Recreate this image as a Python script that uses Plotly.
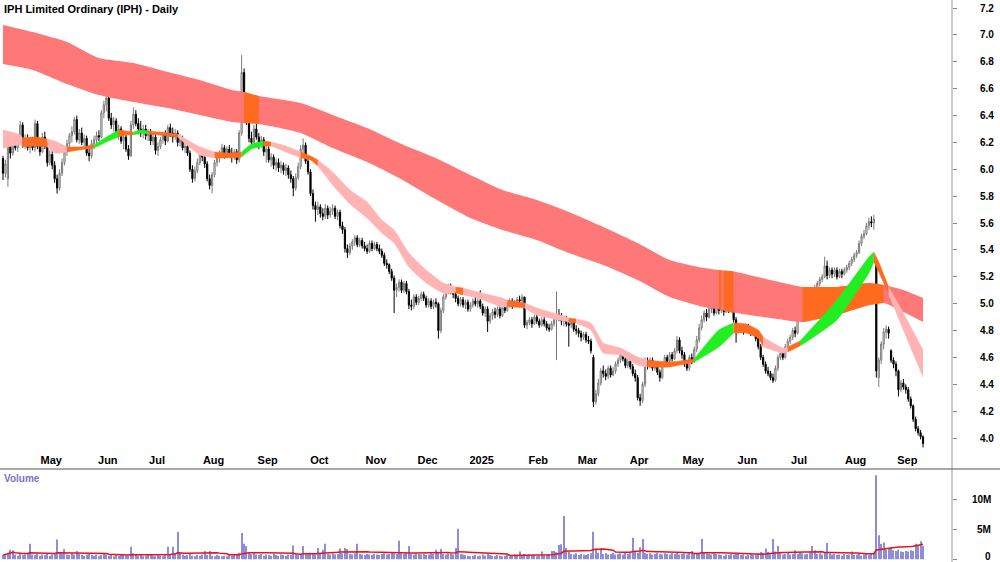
import pandas as pd
import plotly.graph_objects as go

# ---------------- data ----------------
START_DATE = "2024-04-11"
N_DAYS = 375

OPEN = [6.08,5.97,5.93,6.18,6.12,6.20,6.16,6.21,6.33,6.18,
6.22,6.16,6.21,6.16,6.34,6.17,6.13,6.24,6.17,6.05,
6.11,6.03,5.93,5.86,5.97,6.05,6.13,6.19,6.25,6.28,
6.37,6.22,6.27,6.20,6.23,6.12,6.10,6.19,6.22,6.25,
6.24,6.42,6.48,6.53,6.38,6.33,6.36,6.28,6.30,6.21,
6.24,6.15,6.10,6.33,6.41,6.34,6.30,6.27,6.30,6.25,
6.26,6.21,6.24,6.14,6.17,6.22,6.26,6.21,6.31,6.27,
6.24,6.27,6.20,6.23,6.16,6.17,6.12,6.00,5.93,5.99,
6.05,6.12,6.09,6.04,5.93,5.88,5.96,6.05,6.09,6.12,
6.16,6.11,6.15,6.12,6.10,6.13,6.07,6.27,6.72,6.45,
6.36,6.23,6.20,6.30,6.24,6.18,6.22,6.13,6.15,6.07,
6.09,6.03,6.05,6.01,6.03,5.99,6.01,5.96,5.93,5.86,
5.94,6.02,6.15,6.18,6.06,5.98,5.82,5.73,5.70,5.72,
5.67,5.65,5.71,5.66,5.69,5.71,5.65,5.68,5.58,5.55,
5.41,5.38,5.43,5.46,5.49,5.44,5.47,5.43,5.41,5.39,
5.45,5.41,5.44,5.41,5.39,5.36,5.30,5.29,5.24,5.19,
5.10,5.12,5.16,5.10,5.15,5.09,4.99,4.98,5.05,5.01,
5.04,5.07,5.04,4.99,5.02,4.98,5.01,5.00,4.80,4.95,
5.05,5.09,5.13,5.10,5.07,5.04,5.00,5.03,4.99,5.01,
4.96,4.99,5.02,5.00,5.02,4.98,4.93,4.96,4.87,4.91,
4.94,4.92,4.96,4.91,4.97,4.95,4.99,5.02,4.98,5.01,
5.03,5.02,5.05,4.84,4.86,4.88,4.85,4.90,4.87,4.84,
4.88,4.85,4.82,4.81,4.85,4.88,4.92,4.90,4.87,4.89,
4.85,4.84,4.86,4.81,4.80,4.78,4.75,4.77,4.73,4.72,
4.60,4.27,4.33,4.41,4.50,4.48,4.46,4.52,4.47,4.50,
4.55,4.58,4.62,4.59,4.54,4.57,4.53,4.48,4.45,4.30,
4.28,4.40,4.57,4.54,4.58,4.52,4.55,4.49,4.45,4.55,
4.60,4.57,4.62,4.59,4.65,4.73,4.65,4.62,4.55,4.52,
4.60,4.58,4.66,4.73,4.82,4.88,4.93,4.90,4.96,4.98,
4.93,4.98,4.95,4.97,4.94,4.99,4.95,4.98,4.88,4.80,
4.83,4.82,4.80,4.83,4.80,4.78,4.80,4.74,4.68,4.60,
4.55,4.50,4.48,4.45,4.43,4.52,4.60,4.63,4.60,4.68,
4.72,4.75,4.80,4.78,4.90,5.05,5.08,5.05,5.10,5.07,
5.05,5.12,5.15,5.18,5.20,5.28,5.21,5.25,5.22,5.25,
5.20,5.24,5.22,5.25,5.27,5.30,5.33,5.36,5.38,5.45,
5.50,5.52,5.58,5.61,5.60,5.31,4.45,4.58,4.70,4.79,
4.81,4.65,4.58,4.55,4.50,4.36,4.41,4.38,4.36,4.29,
4.24,4.14,4.07,4.04,4.01]

HIGH = [6.10,6.07,6.24,6.22,6.22,6.25,6.23,6.36,6.35,6.26,
6.26,6.24,6.24,6.37,6.36,6.22,6.27,6.28,6.20,6.14,
6.14,6.06,5.96,6.00,6.08,6.17,6.22,6.27,6.32,6.39,
6.40,6.30,6.31,6.26,6.25,6.17,6.22,6.25,6.28,6.29,
6.44,6.51,6.57,6.55,6.42,6.39,6.38,6.33,6.32,6.26,
6.27,6.18,6.36,6.46,6.44,6.38,6.36,6.33,6.33,6.30,
6.30,6.27,6.26,6.20,6.24,6.28,6.29,6.33,6.34,6.31,
6.30,6.29,6.26,6.25,6.20,6.19,6.14,6.03,6.02,6.08,
6.15,6.16,6.12,6.06,5.96,5.98,6.07,6.12,6.14,6.19,
6.18,6.17,6.18,6.16,6.15,6.15,6.29,6.85,6.75,6.48,
6.40,6.28,6.33,6.34,6.27,6.25,6.24,6.18,6.17,6.12,
6.11,6.08,6.08,6.06,6.05,6.04,6.03,5.99,5.95,5.97,
6.05,6.18,6.23,6.20,6.09,6.00,5.85,5.76,5.76,5.74,
5.71,5.74,5.73,5.72,5.74,5.73,5.70,5.70,5.61,5.57,
5.44,5.45,5.48,5.51,5.51,5.49,5.49,5.46,5.44,5.47,
5.47,5.46,5.46,5.44,5.41,5.38,5.33,5.30,5.26,5.21,
5.15,5.18,5.18,5.17,5.17,5.11,5.03,5.07,5.07,5.06,
5.09,5.09,5.06,5.04,5.04,5.03,5.04,5.01,4.97,5.07,
5.11,5.15,5.15,5.12,5.09,5.06,5.05,5.05,5.03,5.03,
5.01,5.04,5.05,5.04,5.10,5.00,4.98,4.98,4.93,4.96,
4.97,4.98,4.98,4.98,5.00,5.01,5.04,5.04,5.03,5.05,
5.06,5.07,5.05,4.88,4.90,4.90,4.92,4.92,4.89,4.90,
4.90,4.87,4.85,4.87,4.90,5.09,4.96,4.93,4.91,4.91,
4.88,4.88,4.88,4.84,4.82,4.80,4.79,4.79,4.76,4.74,
4.62,4.36,4.44,4.52,4.54,4.51,4.54,4.54,4.53,4.57,
4.60,4.64,4.64,4.61,4.59,4.59,4.55,4.51,4.47,4.33,
4.42,4.60,4.60,4.60,4.60,4.57,4.57,4.51,4.57,4.62,
4.62,4.64,4.64,4.67,4.76,4.75,4.68,4.64,4.58,4.62,
4.63,4.68,4.76,4.85,4.91,4.95,4.96,4.99,5.03,5.00,
5.01,5.00,5.00,4.99,5.05,5.01,5.00,4.99,4.90,4.85,
4.85,4.84,4.85,4.85,4.82,4.82,4.81,4.76,4.70,4.62,
4.57,4.53,4.50,4.48,4.54,4.62,4.65,4.65,4.70,4.74,
4.77,4.82,4.83,4.92,5.07,5.10,5.10,5.12,5.12,5.09,
5.14,5.17,5.20,5.22,5.35,5.32,5.27,5.27,5.27,5.27,
5.26,5.26,5.27,5.29,5.32,5.35,5.38,5.40,5.47,5.52,
5.55,5.60,5.64,5.65,5.66,5.32,4.60,4.72,4.82,4.84,
4.83,4.66,4.60,4.57,4.51,4.43,4.44,4.40,4.38,4.31,
4.25,4.16,4.09,4.06,4.02]

LOW = [5.92,5.94,5.87,6.08,6.10,6.14,6.13,6.18,6.16,6.15,
6.14,6.12,6.14,6.13,6.15,6.10,6.12,6.15,6.02,6.03,
6.00,5.90,5.82,5.84,5.95,6.03,6.10,6.16,6.20,6.26,
6.20,6.19,6.18,6.16,6.10,6.06,6.08,6.15,6.18,6.21,
6.23,6.38,6.43,6.36,6.30,6.28,6.26,6.22,6.19,6.15,
6.13,6.07,6.09,6.30,6.32,6.26,6.24,6.23,6.22,6.21,
6.18,6.18,6.11,6.10,6.15,6.19,6.18,6.20,6.24,6.20,
6.22,6.17,6.17,6.14,6.12,6.10,5.98,5.90,5.91,5.97,
6.03,6.06,6.01,5.91,5.85,5.82,5.94,6.02,6.05,6.09,
6.08,6.09,6.10,6.05,6.07,6.04,6.05,6.25,6.40,6.33,
6.20,6.16,6.18,6.22,6.15,6.16,6.10,6.05,6.05,6.02,
6.00,5.99,5.98,5.97,5.96,5.95,5.93,5.90,5.80,5.84,
5.92,6.00,6.12,6.04,5.96,5.80,5.70,5.61,5.66,5.64,
5.62,5.63,5.63,5.64,5.66,5.63,5.62,5.56,5.52,5.38,
5.34,5.36,5.40,5.43,5.42,5.42,5.41,5.39,5.37,5.38,
5.39,5.40,5.39,5.37,5.34,5.28,5.26,5.22,5.17,4.93,
5.05,5.09,5.08,5.08,5.07,4.96,4.95,4.96,4.99,4.99,
5.02,5.02,4.97,4.97,4.96,4.96,4.97,4.74,4.78,4.93,
5.03,5.07,5.07,5.04,5.01,4.98,4.98,4.97,4.96,4.94,
4.94,4.97,4.98,4.97,4.96,4.91,4.90,4.79,4.85,4.88,
4.89,4.90,4.89,4.90,4.93,4.94,4.97,4.96,4.97,4.99,
5.00,5.00,4.82,4.81,4.84,4.82,4.84,4.85,4.82,4.83,
4.83,4.80,4.79,4.80,4.83,4.58,4.87,4.84,4.83,4.83,
4.68,4.82,4.79,4.77,4.75,4.72,4.73,4.71,4.70,4.63,
4.23,4.25,4.31,4.39,4.45,4.43,4.44,4.45,4.46,4.48,
4.53,4.56,4.57,4.52,4.52,4.51,4.46,4.42,4.28,4.24,
4.26,4.38,4.51,4.52,4.50,4.50,4.47,4.42,4.44,4.53,
4.55,4.56,4.57,4.58,4.63,4.63,4.59,4.53,4.50,4.50,
4.55,4.56,4.64,4.71,4.80,4.86,4.87,4.89,4.93,4.91,
4.92,4.92,4.93,4.91,4.93,4.93,4.93,4.86,4.71,4.78,
4.79,4.77,4.78,4.78,4.76,4.76,4.72,4.66,4.58,4.53,
4.48,4.46,4.43,4.41,4.42,4.50,4.58,4.58,4.59,4.66,
4.70,4.73,4.75,4.77,4.89,5.02,5.02,5.04,5.04,4.96,
5.04,5.10,5.13,5.16,5.19,5.18,5.19,5.19,5.20,5.18,
5.19,5.19,5.21,5.23,5.25,5.28,5.31,5.34,5.37,5.43,
5.48,5.51,5.55,5.57,5.55,4.45,4.38,4.55,4.66,4.74,
4.74,4.56,4.52,4.46,4.31,4.34,4.36,4.33,4.27,4.22,
4.12,4.05,4.02,3.99,3.93]

CLOSE = [5.97,6.04,6.18,6.12,6.20,6.16,6.21,6.33,6.18,6.22,
6.16,6.21,6.16,6.34,6.17,6.13,6.24,6.17,6.05,6.11,
6.03,5.93,5.86,5.97,6.05,6.13,6.19,6.25,6.28,6.37,
6.22,6.27,6.20,6.23,6.12,6.10,6.19,6.22,6.25,6.24,
6.42,6.48,6.53,6.38,6.33,6.36,6.28,6.30,6.21,6.24,
6.15,6.10,6.33,6.41,6.34,6.30,6.27,6.30,6.25,6.26,
6.21,6.24,6.14,6.17,6.22,6.26,6.21,6.31,6.27,6.24,
6.27,6.20,6.23,6.16,6.17,6.12,6.00,5.93,5.99,6.05,
6.12,6.09,6.04,5.93,5.88,5.96,6.05,6.09,6.12,6.16,
6.11,6.15,6.12,6.10,6.13,6.07,6.27,6.72,6.45,6.36,
6.23,6.20,6.30,6.24,6.18,6.22,6.13,6.15,6.07,6.09,
6.03,6.05,6.01,6.03,5.99,6.01,5.96,5.93,5.86,5.94,
6.02,6.15,6.18,6.06,5.98,5.82,5.73,5.70,5.72,5.67,
5.65,5.71,5.66,5.69,5.71,5.65,5.68,5.58,5.55,5.41,
5.38,5.43,5.46,5.49,5.44,5.47,5.43,5.41,5.39,5.45,
5.41,5.44,5.41,5.39,5.36,5.30,5.29,5.24,5.19,5.10,
5.12,5.16,5.10,5.15,5.09,4.99,4.98,5.05,5.01,5.04,
5.07,5.04,4.99,5.02,4.98,5.01,5.00,4.80,4.95,5.05,
5.09,5.13,5.10,5.07,5.04,5.00,5.03,4.99,5.01,4.96,
4.99,5.02,5.00,5.02,4.98,4.93,4.96,4.87,4.91,4.94,
4.92,4.96,4.91,4.97,4.95,4.99,5.02,4.98,5.01,5.03,
5.02,5.05,4.84,4.86,4.88,4.85,4.90,4.87,4.84,4.88,
4.85,4.82,4.81,4.85,4.88,4.92,4.90,4.87,4.89,4.85,
4.84,4.86,4.81,4.80,4.78,4.75,4.77,4.73,4.72,4.65,
4.27,4.33,4.41,4.50,4.48,4.46,4.52,4.47,4.50,4.55,
4.58,4.62,4.59,4.54,4.57,4.53,4.48,4.45,4.30,4.28,
4.40,4.57,4.54,4.58,4.52,4.55,4.49,4.45,4.55,4.60,
4.57,4.62,4.59,4.65,4.73,4.65,4.62,4.55,4.52,4.60,
4.58,4.66,4.73,4.82,4.88,4.93,4.90,4.96,4.98,4.93,
4.98,4.95,4.97,4.94,4.99,4.95,4.98,4.88,4.80,4.83,
4.82,4.80,4.83,4.80,4.78,4.80,4.74,4.68,4.60,4.55,
4.50,4.48,4.45,4.43,4.52,4.60,4.63,4.60,4.68,4.72,
4.75,4.80,4.78,4.90,5.05,5.08,5.05,5.10,5.07,5.05,
5.12,5.15,5.18,5.20,5.28,5.21,5.25,5.22,5.25,5.20,
5.24,5.22,5.25,5.27,5.30,5.33,5.36,5.38,5.45,5.50,
5.52,5.58,5.61,5.60,5.63,4.50,4.58,4.70,4.79,4.81,
4.78,4.58,4.55,4.50,4.36,4.41,4.38,4.36,4.29,4.24,
4.14,4.07,4.04,4.01,3.96]

VOLUME_M = [0.7,0.9,1.1,1.6,1.5,0.8,0.6,0.9,0.7,0.8,
0.9,2.6,0.8,0.7,1.0,0.6,0.8,0.7,0.9,0.6,
0.8,1.0,3.3,1.2,0.9,1.7,0.8,0.7,1.0,0.8,
1.4,0.9,0.7,0.6,0.8,0.9,0.7,0.6,0.8,0.5,
0.7,0.9,0.8,0.6,0.7,0.5,0.8,0.6,0.7,0.9,
0.6,0.7,2.1,1.0,0.8,0.6,0.7,0.5,0.6,0.8,
0.7,0.6,0.5,0.7,0.6,0.5,0.7,2.1,0.8,2.1,
0.9,4.6,1.1,0.8,0.6,0.7,0.9,0.6,0.5,0.7,
0.6,0.8,1.4,0.7,1.4,0.6,0.5,0.7,0.6,0.5,
0.6,0.5,0.7,0.6,0.8,0.7,1.1,4.4,2.6,2.2,
1.0,0.9,1.2,0.8,0.7,0.9,0.6,0.8,0.7,0.6,
0.9,0.7,0.6,0.8,0.7,0.6,0.8,0.7,2.3,0.9,
0.7,0.8,2.2,0.9,0.8,1.1,0.9,0.8,1.9,0.9,
1.6,2.6,0.9,0.8,1.0,0.8,0.9,1.8,1.0,1.9,
1.7,0.9,0.8,1.0,2.6,0.9,0.8,0.7,0.9,0.8,
0.7,0.9,0.8,0.7,0.9,1.0,0.8,0.9,1.1,1.0,
0.9,3.1,1.0,0.9,1.1,2.2,0.9,0.8,1.0,0.9,
0.8,0.9,0.7,0.8,1.0,0.9,1.6,1.2,1.7,0.9,
0.8,1.0,0.9,0.8,1.9,5.1,0.9,0.8,0.7,0.6,
0.5,0.6,0.7,0.5,0.6,0.8,0.6,0.9,0.7,0.6,
0.5,0.7,0.6,0.5,0.6,0.7,0.5,0.6,0.8,0.7,
1.3,0.6,0.9,0.7,0.8,0.6,0.7,0.5,0.6,1.3,
0.7,0.8,0.9,1.4,1.4,1.2,2.4,2.5,7.2,1.9,
1.2,0.9,0.8,1.0,0.7,0.9,0.8,0.7,0.9,1.0,
4.6,1.8,1.1,1.8,0.9,1.0,0.8,0.9,1.1,0.8,
0.9,1.0,0.8,1.1,0.9,1.0,3.6,1.2,1.1,2.0,
3.4,1.1,0.9,1.0,0.8,0.9,1.1,0.9,0.8,1.0,
0.9,0.8,1.0,0.9,1.1,0.8,0.9,1.0,0.8,1.0,
1.4,0.9,1.0,1.1,3.4,1.2,1.0,0.9,0.8,1.0,
0.9,0.8,0.7,0.6,0.8,0.7,0.9,0.8,1.1,0.9,
0.7,0.8,0.6,0.7,0.9,0.8,0.7,1.0,1.2,1.1,
1.8,1.2,0.9,3.4,1.3,2.2,1.0,0.8,0.9,1.0,
0.8,0.9,1.5,0.9,1.2,1.0,0.8,0.9,1.1,2.2,
1.5,0.9,1.0,0.8,1.1,2.7,1.0,0.8,0.9,0.7,
0.8,0.6,0.9,0.7,0.8,1.3,0.7,0.8,0.9,0.6,
0.8,0.9,0.7,0.9,1.0,14.0,4.0,2.6,2.8,1.6,
1.9,2.0,1.5,1.4,1.6,1.3,1.2,1.4,1.3,1.5,
1.4,2.6,2.2,3.0,2.2]

# long-term ribbon (edges read at sample days)
LB_IDX = [0, 12, 26, 39, 53, 67, 80, 93, 98, 104, 121, 134, 148, 161, 175, 190, 203, 217,
          230, 244, 258, 271, 285, 291, 292, 293, 297, 312, 325, 339, 352, 358, 366, 374]
LB_TOP = [7.074, 7.021, 6.947, 6.828, 6.791, 6.724, 6.664, 6.590, 6.575, 6.545, 6.493, 6.404,
          6.307, 6.196, 6.091, 5.957, 5.846, 5.771, 5.682, 5.571, 5.451, 5.325, 5.265, 5.250,
          5.248, 5.246, 5.240, 5.176, 5.124, 5.124, 5.154, 5.139, 5.102, 5.042]
LB_BOT = [6.783, 6.739, 6.635, 6.553, 6.501, 6.456, 6.404, 6.352, 6.344, 6.337, 6.270, 6.158,
          6.054, 5.935, 5.786, 5.637, 5.548, 5.474, 5.377, 5.288, 5.176, 5.050, 4.975, 4.958,
          4.955, 4.950, 4.935, 4.893, 4.864, 4.916, 4.990, 5.005, 4.938, 4.864]
LB_ORANGE = [(98, 104), (291, 292), (293, 297), (325, 358)]

# short-term ribbon
SB_IDX = [0, 7, 8, 13, 18, 21, 26, 31, 37, 42, 47, 50, 53, 56, 59, 67, 71, 80, 86, 92, 97, 101,
          106, 109, 115, 121, 125, 128, 134, 141, 148, 154, 159, 165, 172, 179, 184, 187, 193,
          203, 205, 212, 217, 228, 230, 233, 239, 244, 251, 258, 262, 271, 281, 291, 297, 302,
          307, 309, 317, 319, 324, 339, 352, 354, 356, 360, 366, 374]
SB_TOP = [6.292, 6.255, 6.233, 6.240, 6.225, 6.210, 6.166, 6.166, 6.181, 6.240, 6.292, 6.285,
          6.277, 6.292, 6.285, 6.270, 6.262, 6.166, 6.129, 6.121, 6.129, 6.188, 6.210, 6.203,
          6.173, 6.129, 6.099, 6.069, 5.980, 5.846, 5.757, 5.623, 5.548, 5.377, 5.251, 5.154,
          5.124, 5.117, 5.087, 5.042, 5.027, 5.005, 4.968, 4.908, 4.893, 4.886, 4.856, 4.707,
          4.670, 4.603, 4.581, 4.566, 4.589, 4.804, 4.856, 4.849, 4.804, 4.752, 4.670, 4.678,
          4.722, 5.027, 5.347, 5.384, 5.310, 5.124, 4.931, 4.655]
SB_BOT = [6.158, 6.181, 6.166, 6.173, 6.166, 6.121, 6.129, 6.144, 6.158, 6.203, 6.240, 6.255,
          6.255, 6.270, 6.262, 6.248, 6.240, 6.106, 6.084, 6.084, 6.091, 6.151, 6.173, 6.173,
          6.129, 6.084, 6.069, 6.024, 5.883, 5.742, 5.637, 5.526, 5.451, 5.273, 5.154, 5.080,
          5.080, 5.065, 5.042, 4.975, 4.982, 4.968, 4.916, 4.871, 4.864, 4.856, 4.804, 4.633,
          4.618, 4.544, 4.529, 4.529, 4.566, 4.678, 4.782, 4.782, 4.745, 4.678, 4.633, 4.641,
          4.685, 4.879, 5.228, 5.310, 5.236, 5.072, 4.804, 4.454]
SB_SEGMENTS = [(0, 8, "P"), (8, 18, "O"), (18, 26, "P"), (26, 37, "O"), (37, 47, "G"),
               (47, 53, "O"), (53, 59, "G"), (59, 71, "O"), (71, 86, "P"), (86, 97, "O"),
               (97, 106, "G"), (106, 109, "O"), (109, 121, "P"), (121, 128, "O"),
               (128, 184, "P"), (184, 187, "O"), (187, 205, "P"), (205, 212, "O"),
               (212, 230, "P"), (230, 233, "O"), (233, 262, "P"), (262, 281, "O"),
               (281, 297, "G"), (297, 309, "O"), (309, 319, "P"), (319, 324, "O"),
               (324, 354, "G"), (354, 360, "O"), (360, 374, "P")]

MONTH_LABELS = ["May", "Jun", "Jul", "Aug", "Sep", "Oct", "Nov", "Dec", "2025",
                "Feb", "Mar", "Apr", "May", "Jun", "Jul", "Aug", "Sep"]
PRICE_TICKS = [4.0, 4.2, 4.4, 4.6, 4.8, 5.0, 5.2, 5.4, 5.6, 5.8, 6.0, 6.2, 6.4, 6.6, 6.8, 7.0, 7.2]
VOL_TICKS = [0, 5, 10]
VOL_TICK_TEXT = ["0", "5M", "10M"]

# ---------------- styling ----------------
COL = {"P": "#ffb3b3", "O": "#ff6a1f", "G": "#22ee22"}
LONG_COL = "#ff7878"
FONT = "Liberation Sans, Arial, sans-serif"

W, H = 1000, 562
PLOT_R = 952
PRICE_BOTTOM_PX = 452
VOL_TOP_PX = 469

dates = pd.bdate_range(START_DATE, periods=N_DAYS)
idx = list(range(N_DAYS))
month_starts = [i for i in range(1, N_DAYS) if dates[i].month != dates[i - 1].month]

fig = go.Figure()


def add_band(xs, top, bot, a, b, color, smooth, edge=0.0):
    sel = [k for k, v in enumerate(xs) if a <= v <= b]
    sx = [xs[k] for k in sel]
    line_kw = dict(width=edge, color=color)
    if smooth:
        line_kw.update(shape="spline", smoothing=smooth)
    fig.add_trace(go.Scatter(x=sx, y=[bot[k] for k in sel], mode="lines", line=line_kw,
                             hoverinfo="skip", xaxis="x", yaxis="y"))
    fig.add_trace(go.Scatter(x=sx, y=[top[k] for k in sel], mode="lines", line=line_kw,
                             fill="tonexty", fillcolor=color, hoverinfo="skip",
                             xaxis="x", yaxis="y"))


# long band
add_band(LB_IDX, LB_TOP, LB_BOT, LB_IDX[0], LB_IDX[-1], LONG_COL, 0.6)
for a, b in LB_ORANGE:
    add_band(LB_IDX, LB_TOP, LB_BOT, a, b, COL["O"], 0)
# short band
for a, b, c in SB_SEGMENTS:
    add_band(SB_IDX, SB_TOP, SB_BOT, a, b, COL[c], 0.5, edge=0.5)

# candles
fig.add_trace(go.Candlestick(
    x=idx, open=OPEN, high=HIGH, low=LOW, close=CLOSE,
    increasing=dict(line=dict(color="#7a7a7a", width=1), fillcolor="white"),
    decreasing=dict(line=dict(color="black", width=1), fillcolor="black"),
    whiskerwidth=0, xaxis="x", yaxis="y", hoverinfo="skip"))

# volume
fig.add_trace(go.Bar(x=idx, y=VOLUME_M, marker=dict(color="#8e8ed8", line=dict(width=0)),
                     width=0.45, xaxis="x2", yaxis="y2", hoverinfo="skip"))
vol_avg = pd.Series(VOLUME_M).rolling(21, min_periods=1).mean()
fig.add_trace(go.Scatter(x=idx, y=vol_avg, mode="lines", line=dict(color="#ee1111", width=1.5),
                         xaxis="x2", yaxis="y2", hoverinfo="skip"))

price_dom = [(H - PRICE_BOTTOM_PX) / H, 1.0]
vol_dom = [0.0, (H - VOL_TOP_PX) / H]
px_per_unit = 134.4
p_top = 7.2 + 8 / px_per_unit
p_bot = p_top - PRICE_BOTTOM_PX / px_per_unit
vpx = 6.0
v_bot = -(H - 559.3) / vpx
v_top = v_bot + (H - VOL_TOP_PX) / vpx
x0 = -3 / 2.46
x1 = x0 + PLOT_R / 2.46

fig.update_layout(
    width=W, height=H, margin=dict(l=0, r=W - PLOT_R, t=0, b=0),
    paper_bgcolor="white", plot_bgcolor="white", showlegend=False,
    font=dict(family=FONT, size=11, color="black"),
    xaxis=dict(domain=[0, 1], range=[x0, x1], anchor="y",
               tickvals=[m + 5.6 for m in month_starts], ticktext=MONTH_LABELS,
               ticks="", showgrid=False, zeroline=False, showline=False,
               tickfont=dict(family=FONT, size=11, weight="bold", color="black"),
               rangeslider=dict(visible=False)),
    yaxis=dict(domain=price_dom, range=[p_bot, p_top], side="right", anchor="x",
               tickvals=PRICE_TICKS, ticktext=[f"{v:.1f}" for v in PRICE_TICKS],
               ticks="outside", ticklen=4, tickcolor="#888", showgrid=False, zeroline=False,
               showline=False, ticklabelstandoff=21,
               tickfont=dict(family=FONT, size=10, weight="bold", color="black")),
    xaxis2=dict(domain=[0, 1], range=[x0, x1], anchor="y2", matches="x",
                showticklabels=False, ticks="", showgrid=False, zeroline=False, showline=False),
    yaxis2=dict(domain=vol_dom, range=[v_bot, v_top], side="right", anchor="x2",
                tickvals=VOL_TICKS, showticklabels=False, ticks="outside", ticklen=4,
                tickcolor="#888", showgrid=False, zeroline=False, showline=False),
)

for v, t in zip(VOL_TICKS, VOL_TICK_TEXT):
    yv = v + (0.45 if v == 0 else 0)
    fig.add_annotation(x=993 / PLOT_R, xref="paper", y=yv, yref="y2", text=t, showarrow=False,
                       xanchor="right", yanchor="middle",
                       font=dict(family=FONT, size=10, weight="bold", color="black"))

fig.add_annotation(x=2 / PLOT_R, xref="paper", y=1 - 1 / H, yref="paper",
                   text="IPH Limited Ordinary (IPH) - Daily", showarrow=False,
                   xanchor="left", yanchor="top",
                   font=dict(family=FONT, size=11, weight="bold", color="black"))
fig.add_annotation(x=2 / PLOT_R, xref="paper", y=(H - 478) / H, yref="paper",
                   text="Volume", showarrow=False, xanchor="left", yanchor="middle",
                   font=dict(family=FONT, size=10, weight="bold", color="#7474c4"))

# frame lines
fig.add_shape(type="line", xref="paper", yref="paper", x0=1, x1=1, y0=0, y1=1,
              line=dict(color="#9a9a9a", width=1))
fig.add_shape(type="line", xref="paper", yref="paper", x0=0, x1=W / PLOT_R,
              y0=(H - VOL_TOP_PX) / H, y1=(H - VOL_TOP_PX) / H,
              line=dict(color="#555", width=1))

fig.write_html("out.html")
